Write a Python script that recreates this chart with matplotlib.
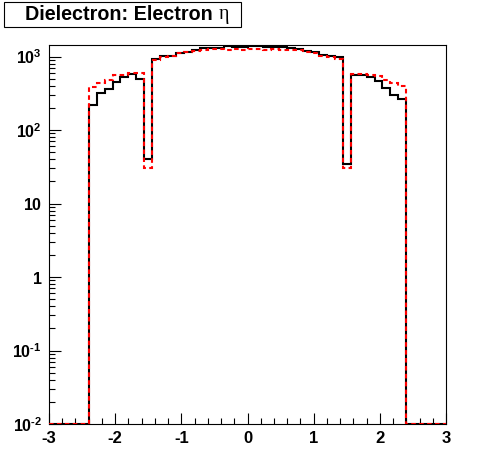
"""
Dielectron: pseudorapidez del electrón (datos vs. simulación), escala log.
"""

import numpy as np
import matplotlib
matplotlib.use("Agg")
import matplotlib.pyplot as plt
from matplotlib.patches import Rectangle
from matplotlib.ticker import FixedLocator, FixedFormatter, LogLocator, NullFormatter, MultipleLocator

# ---------------------------------------------------------------------------
# Datos (50 bins de 0.12 entre -3 y 3)
# ---------------------------------------------------------------------------

eta_lo = -3.0
eta_hi = 3.0
n_bins = 50

counts_black = [
    0, 0, 0, 0, 0,
    217, 320, 359, 456, 522, 581, 501,
    40,
    940, 1010, 1030, 1120, 1150, 1210, 1290, 1290, 1310, 1390, 1330, 1330,
    1390, 1380, 1350, 1345, 1335, 1290, 1250, 1205, 1150, 1065, 1030, 1000,
    34.5,
    568, 556, 522, 471, 374, 303, 268,
    0, 0, 0, 0, 0,
]

counts_red = [
    0, 0, 0, 0, 0,
    386, 433, 486, 556, 556, 592, 592,
    30.5,
    910, 990, 1030, 1100, 1150, 1180, 1240, 1250, 1250, 1245, 1255, 1245,
    1250, 1255, 1245, 1250, 1240, 1245, 1210, 1157, 1120, 1030, 990, 940,
    30.5,
    581, 578, 556, 540, 486, 438, 403,
    0, 0, 0, 0, 0,
]

y_ticks = [1e-2, 1e-1, 1, 10, 1e2, 1e3]
y_tick_labels = [r"$\mathbf{10^{\text{-}2}}$", r"$\mathbf{10^{\text{-}1}}$", r"$\mathbf{1}$",
                 r"$\mathbf{10}$", r"$\mathbf{10^{2}}$", r"$\mathbf{10^{3}}$"]
x_ticks = [-3, -2, -1, 0, 1, 2, 3]

y_min = 1e-2
y_max = 1435.0


def _clip_bottom(values, floor):
    # ROOT dibuja los bins vacíos pegados al borde inferior en escala log
    arr = np.asarray(values, dtype=float)
    return np.where(arr > 0, arr, floor)


def main() -> None:
    plt.rcParams["font.family"] = ["Liberation Sans", "DejaVu Sans"]
    plt.rcParams["font.weight"] = "bold"
    plt.rcParams["axes.unicode_minus"] = False
    plt.rcParams["mathtext.fontset"] = "custom"
    plt.rcParams["mathtext.rm"] = "Liberation Sans:bold"
    plt.rcParams["mathtext.bf"] = "Liberation Sans:bold"
    plt.rcParams["mathtext.default"] = "bf"

    fig = plt.figure(figsize=(4.96, 4.72), dpi=100)
    W, H = 496.0, 472.0
    ax = fig.add_axes([49 / W, 1 - 424 / H, (446 - 49) / W, (424 - 45) / H])

    edges = np.linspace(eta_lo, eta_hi, n_bins + 1)
    ax.stairs(_clip_bottom(counts_black, y_min), edges, baseline=None,
              color="black", lw=1.5, zorder=3)
    ax.stairs(_clip_bottom(counts_red, y_min), edges, baseline=None,
              color="#ff0000", lw=1.5, ls=(0, (2.2, 1.6)), zorder=4)

    ax.set_yscale("log")
    ax.set_xlim(eta_lo, eta_hi)
    ax.set_ylim(y_min, y_max)

    # Ejes estilo ROOT: ticks hacia dentro, solo abajo e izquierda
    ax.xaxis.set_major_locator(FixedLocator(x_ticks))
    ax.xaxis.set_minor_locator(MultipleLocator(0.2))
    ax.yaxis.set_major_locator(FixedLocator(y_ticks))
    ax.yaxis.set_major_formatter(FixedFormatter(y_tick_labels))
    ax.yaxis.set_minor_locator(LogLocator(base=10, subs=np.arange(2, 10)))
    ax.yaxis.set_minor_formatter(NullFormatter())

    ax.tick_params(which="both", direction="in", top=False, right=False,
                   width=0.8)
    ax.tick_params(axis="x", which="major", length=8, pad=5, labelsize=12)
    ax.tick_params(axis="x", which="minor", length=4)
    ax.tick_params(axis="y", which="major", length=8.5, pad=5, labelsize=11.5)
    ax.tick_params(axis="y", which="minor", length=4.5)
    for lbl in ax.get_xticklabels():
        lbl.set_fontweight("bold")
    for sp in ax.spines.values():
        sp.set_linewidth(0.8)

    # Título en caja (arriba a la izquierda)
    fig.patches.append(Rectangle((4 / W, 1 - 27 / H), 237 / W, 25 / H,
                                 transform=fig.transFigure, fill=False,
                                 lw=0.8, ec="black"))
    t1 = fig.text(25 / W, 1 - 14.5 / H, "Dielectron: Electron ",
                  fontsize=14.2, fontweight="bold", va="center", ha="left")
    ax.annotate("η", xy=(1, 0.5), xycoords=t1, va="center", ha="left",
                fontsize=14.5, fontweight="normal",
                family=["Liberation Serif", "DejaVu Serif"])

    fig.savefig("out.png", dpi=100)


if __name__ == "__main__":
    main()
